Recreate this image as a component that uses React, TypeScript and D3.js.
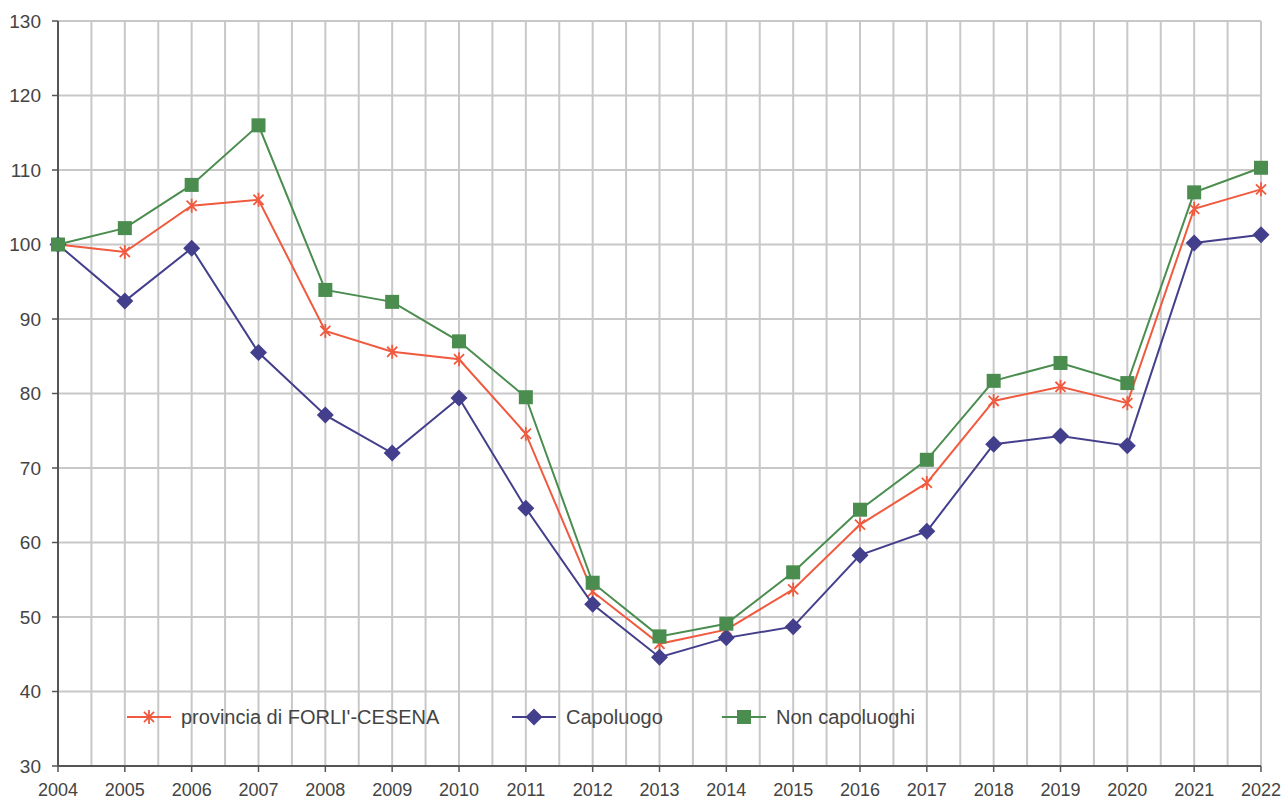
import React from "react";
import * as d3 from "d3";

const width = 1282;
const height = 802;
const margin = { top: 21, right: 21, bottom: 36, left: 58 };

const years = d3.range(2004, 2023);
const yTicks = [30, 40, 50, 60, 70, 80, 90, 100, 110, 120, 130];

const provincia = [100, 99.0, 105.2, 106.0, 88.4, 85.6, 84.6, 74.6, 53.4, 46.4, 48.3, 53.7, 62.4, 68.0, 79.0, 80.9, 78.7, 104.8, 107.4];
const capoluogo = [100, 92.4, 99.5, 85.5, 77.1, 72.0, 79.4, 64.6, 51.7, 44.6, 47.2, 48.7, 58.3, 61.5, 73.2, 74.3, 73.0, 100.2, 101.3];
const nonCapoluoghi = [100, 102.2, 108.0, 116.0, 93.9, 92.3, 87.0, 79.5, 54.6, 47.4, 49.1, 56.0, 64.4, 71.1, 81.7, 84.1, 81.4, 107.0, 110.3];

const series = [
  { name: "provincia di FORLI'-CESENA", values: provincia, color: "#f05a3f", marker: "star", legendX: 127 },
  { name: "Capoluogo", values: capoluogo, color: "#433f8c", marker: "diamond", legendX: 512 },
  { name: "Non capoluoghi", values: nonCapoluoghi, color: "#4a8d4f", marker: "square", legendX: 722 },
];

const x = d3.scaleLinear().domain([2004, 2022]).range([margin.left, width - margin.right]);
const y = d3.scaleLinear().domain([30, 130]).range([height - margin.bottom, margin.top]);

const font = "'Liberation Sans', Arial, sans-serif";
const textColor = "#444";

function Marker({ type, cx, cy, color }) {
  if (type === "square") {
    return <rect x={cx - 7} y={cy - 7} width={14} height={14} fill={color} />;
  }
  if (type === "diamond") {
    return <path d={`M${cx},${cy - 8.5}L${cx + 8.5},${cy}L${cx},${cy + 8.5}L${cx - 8.5},${cy}Z`} fill={color} />;
  }
  const r = 7;
  const d = r * 0.72;
  return (
    <path
      d={`M${cx - d},${cy - d}L${cx + d},${cy + d}M${cx - d},${cy + d}L${cx + d},${cy - d}M${cx},${cy - r}L${cx},${cy + r}`}
      stroke={color}
      strokeWidth={1.8}
      fill="none"
    />
  );
}

export default function App() {
  const halfYears = d3.range(2004, 2022.01, 0.5);
  const line = d3
    .line<number>()
    .x((d, i) => x(years[i]))
    .y((d) => y(d));
  const bottom = height - margin.bottom;
  const legendY = 717;

  return (
    <svg width={width} height={height} style={{ position: "absolute", left: 0, top: 0 }}>
      <rect width={width} height={height} fill="#fff" />
      <g>
        {halfYears.map((t) => (
          <line key={t} x1={x(t)} x2={x(t)} y1={margin.top} y2={bottom} stroke="#c8c8c8" strokeWidth={2} />
        ))}
        {yTicks.map((t) => (
          <line key={t} x1={margin.left} x2={width - margin.right} y1={y(t)} y2={y(t)} stroke="#c8c8c8" strokeWidth={2} />
        ))}
      </g>
      <g>
        <line x1={margin.left} x2={margin.left} y1={margin.top} y2={bottom} stroke="#555" strokeWidth={2} />
        <line x1={margin.left} x2={width - margin.right} y1={bottom} y2={bottom} stroke="#555" strokeWidth={2} />
        {yTicks.map((t) => (
          <g key={t}>
            <line x1={margin.left - 6} x2={margin.left} y1={y(t)} y2={y(t)} stroke="#555" strokeWidth={1.5} />
            <text x={41} y={y(t)} dy="0.35em" textAnchor="end" fontFamily={font} fontSize={19} fill={textColor}>
              {t}
            </text>
          </g>
        ))}
        {years.map((yr) => (
          <g key={yr}>
            <line x1={x(yr)} x2={x(yr)} y1={bottom} y2={bottom + 6} stroke="#555" strokeWidth={1.5} />
            <text x={x(yr)} y={790} dy="0.35em" textAnchor="middle" fontFamily={font} fontSize={18} fill={textColor}>
              {yr}
            </text>
          </g>
        ))}
      </g>
      {series.map((s) => (
        <g key={s.name}>
          <path d={line(s.values)} fill="none" stroke={s.color} strokeWidth={2} />
          {s.values.map((v, i) => (
            <Marker key={i} type={s.marker} cx={x(years[i])} cy={y(v)} color={s.color} />
          ))}
        </g>
      ))}
      <g>
        {series.map((s) => (
          <g key={s.name}>
            <line x1={s.legendX} x2={s.legendX + 44} y1={legendY} y2={legendY} stroke={s.color} strokeWidth={2} />
            <Marker type={s.marker} cx={s.legendX + 22} cy={legendY} color={s.color} />
            <text x={s.legendX + 54} y={legendY} dy="0.35em" fontFamily={font} fontSize={20} fill={textColor}>
              {s.name}
            </text>
          </g>
        ))}
      </g>
    </svg>
  );
}
